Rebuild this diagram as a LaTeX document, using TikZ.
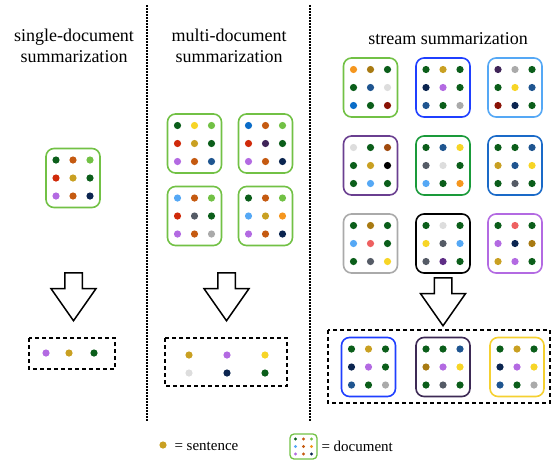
\documentclass[tikz,border=0pt]{standalone}
\usepackage{fontspec}
\setmainfont{Liberation Serif}
\usepackage{tikz}
\usetikzlibrary{shapes.arrows,calc}

\definecolor{dkgreen}{HTML}{0B5E1A}
\definecolor{obrown}{HTML}{C55A11}
\definecolor{lgreen}{HTML}{72C145}
\definecolor{sred}{HTML}{D02A0A}
\definecolor{gold}{HTML}{C9A022}
\definecolor{lilac}{HTML}{B36AE2}
\definecolor{navy}{HTML}{0B2550}
\definecolor{syellow}{HTML}{F7D526}
\definecolor{steel}{HTML}{1F5590}
\definecolor{sblue}{HTML}{0A6CC8}
\definecolor{dpurple}{HTML}{3F2458}
\definecolor{lblue}{HTML}{55A8F5}
\definecolor{dgray}{HTML}{555B66}
\definecolor{lgray}{HTML}{AAAAAA}
\definecolor{sorange}{HTML}{F5961E}
\definecolor{vlgray}{HTML}{DDDDDD}
\definecolor{dred}{HTML}{8A1205}
\definecolor{bgold}{HTML}{A87A12}
\definecolor{rust}{HTML}{A04A0E}
\definecolor{salmon}{HTML}{EE6060}
\definecolor{violet}{HTML}{5E2D85}
\definecolor{bblue}{HTML}{1F3FFF}
\definecolor{mpurple}{HTML}{6A3F90}
\definecolor{mgreen}{HTML}{1A9A3A}
\definecolor{mblue}{HTML}{1A6AC8}
\definecolor{sumpurple}{HTML}{3D2A55}
\definecolor{sumyellow}{HTML}{F5D030}

% name, centre, border colour, the 9 sentence colours
\newcommand{\docbox}[4]{%
  \node[doc, draw=#3] (#1) at (#2) {};
  \foreach \dc [count=\i from 0] in {#4} {
    \pgfmathtruncatemacro{\cx}{mod(\i,3)-1}
    \pgfmathtruncatemacro{\cy}{div(\i,3)-1}
    \node[dot, fill=\dc] (#1_\i) at ($(#1)+(17*\cx,18*\cy)$) {};
  }
}

\begin{document}
\begin{tikzpicture}[x=1pt,y=-1pt,
   doc/.style={rectangle, rounded corners=8pt, line width=1.6pt, minimum width=54pt, minimum height=59pt},
   dot/.style={circle, inner sep=0pt, minimum size=7.2pt},
   down/.style={single arrow, draw, line width=1.5pt, rotate=-90, inner xsep=0pt, inner ysep=8pt,
                minimum height=48pt, single arrow head extend=13.75pt, single arrow tip angle=70, anchor=tail},
   summ/.style={draw, line width=1.3pt, dash pattern=on 4pt off 3pt},
   divider/.style={line width=1.5pt, dash pattern=on 1.5pt off 1.5pt},
   title/.style={align=center, font=\fontsize{18}{21}\selectfont},
   legend/.style={anchor=west, font=\fontsize{15}{17}\selectfont}]
   \useasboundingbox (0,0) rectangle (553,461);

   % column titles
   \node[title] (t_single) at (74,46) {single-document\\summarization};
   \node[title] (t_multi)  at (229,46) {multi-document\\summarization};
   \node[title] (t_stream) at (448,39) {stream summarization};

   % dividers
   \coordinate (v_1) at (147,5);   \coordinate (w_1) at (147,422);
   \coordinate (v_2) at (310,5);   \coordinate (w_2) at (310,422);
   \draw[divider] (v_1) -- (w_1);
   \draw[divider] (v_2) -- (w_2);

   % single-document
   \docbox{d_1}{73,178}{lgreen}{dkgreen,obrown,lgreen,sred,gold,dkgreen,lilac,obrown,navy}
   \node[down] (a_1) at (73.5,272) {};
   \draw[summ] (29,338) rectangle (115,369);
   \node[dot, fill=lilac]   (o_1) at (46,353) {};
   \node[dot, fill=gold]    (o_2) at (69,353) {};
   \node[dot, fill=dkgreen] (o_3) at (94,353) {};

   % multi-document
   \docbox{m_1}{194.5,143.5}{lgreen}{dkgreen,syellow,lgreen,sred,gold,dkgreen,lilac,obrown,steel}
   \docbox{m_2}{265.5,143.5}{lgreen}{sblue,obrown,lgreen,sred,dpurple,dkgreen,lilac,obrown,navy}
   \docbox{m_3}{194.5,216}{lgreen}{lblue,obrown,lgreen,sred,dgray,dkgreen,lilac,obrown,lgray}
   \docbox{m_4}{265.5,216}{lgreen}{dkgreen,obrown,lgreen,lblue,gold,sorange,lilac,obrown,navy}
   \node[down] (a_2) at (226.5,272) {};
   \draw[summ] (165,338) rectangle (287,386);
   \node[dot, fill=gold]    (p_1) at (189,355) {};
   \node[dot, fill=lilac]   (p_2) at (227,355) {};
   \node[dot, fill=syellow] (p_3) at (265,355) {};
   \node[dot, fill=vlgray]  (p_4) at (189,373) {};
   \node[dot, fill=navy]    (p_5) at (227,373) {};
   \node[dot, fill=dkgreen] (p_6) at (265,373) {};

   % stream
   \docbox{s_1}{370.5,87.5}{lgreen}{sorange,bgold,dkgreen,dkgreen,steel,vlgray,sblue,dkgreen,dred}
   \docbox{s_2}{443,87.5}{bblue}{dkgreen,gold,dkgreen,navy,lilac,dkgreen,steel,dkgreen,lgray}
   \docbox{s_3}{515,87.5}{lblue}{dpurple,lgray,dkgreen,dkgreen,syellow,steel,dred,navy,dkgreen}
   \docbox{s_4}{370.5,165.5}{mpurple}{vlgray,dkgreen,rust,dkgreen,gold,black,dkgreen,lblue,dkgreen}
   \docbox{s_5}{443,165.5}{mgreen}{dkgreen,steel,syellow,dgray,vlgray,dkgreen,lblue,dkgreen,sorange}
   \docbox{s_6}{515,165.5}{mblue}{dkgreen,dkgreen,steel,gold,steel,syellow,dkgreen,dgray,dkgreen}
   \docbox{s_7}{370.5,243.5}{lgray}{dkgreen,bgold,dkgreen,lblue,salmon,dkgreen,dkgreen,dgray,syellow}
   \docbox{s_8}{443,243.5}{black}{dkgreen,vlgray,dkgreen,syellow,dgray,lblue,dgray,violet,dkgreen}
   \docbox{s_9}{515,243.5}{lilac}{dkgreen,salmon,dkgreen,lilac,navy,bgold,gold,lilac,dkgreen}
   \node[down] (a_3) at (443,277) {};
   \draw[summ] (328,330) rectangle (550,403);
   \docbox{r_1}{368.5,367}{bblue}{dkgreen,gold,dkgreen,navy,lilac,dkgreen,steel,dkgreen,lgray}
   \docbox{r_2}{443,367}{sumpurple}{dkgreen,dkgreen,steel,bgold,lilac,syellow,dkgreen,dgray,dkgreen}
   \docbox{r_3}{517,367}{sumyellow}{dkgreen,gold,dkgreen,navy,lilac,syellow,steel,dkgreen,lgray}

   % legend
   \node[dot, fill=gold] (l_s) at (163,445) {};
   \node[legend] (l_st) at (171,446) {= sentence};
   \node[rectangle, rounded corners=4pt, line width=1.3pt, draw=lgreen,
         minimum width=27pt, minimum height=25pt] (l_d) at (303.5,446.5) {};
   \foreach \dc [count=\i from 0] in {dkgreen,obrown,lgreen,lblue,obrown,sorange,lilac,obrown,navy} {
     \pgfmathtruncatemacro{\cx}{mod(\i,3)-1}
     \pgfmathtruncatemacro{\cy}{div(\i,3)-1}
     \node[circle, inner sep=0pt, minimum size=3.4pt, fill=\dc] (l_d_\i) at ($(l_d)+(8*\cx,7.5*\cy)$) {};
   }
   \node[legend] (l_dt) at (318,446) {= document};
\end{tikzpicture}
\end{document}
